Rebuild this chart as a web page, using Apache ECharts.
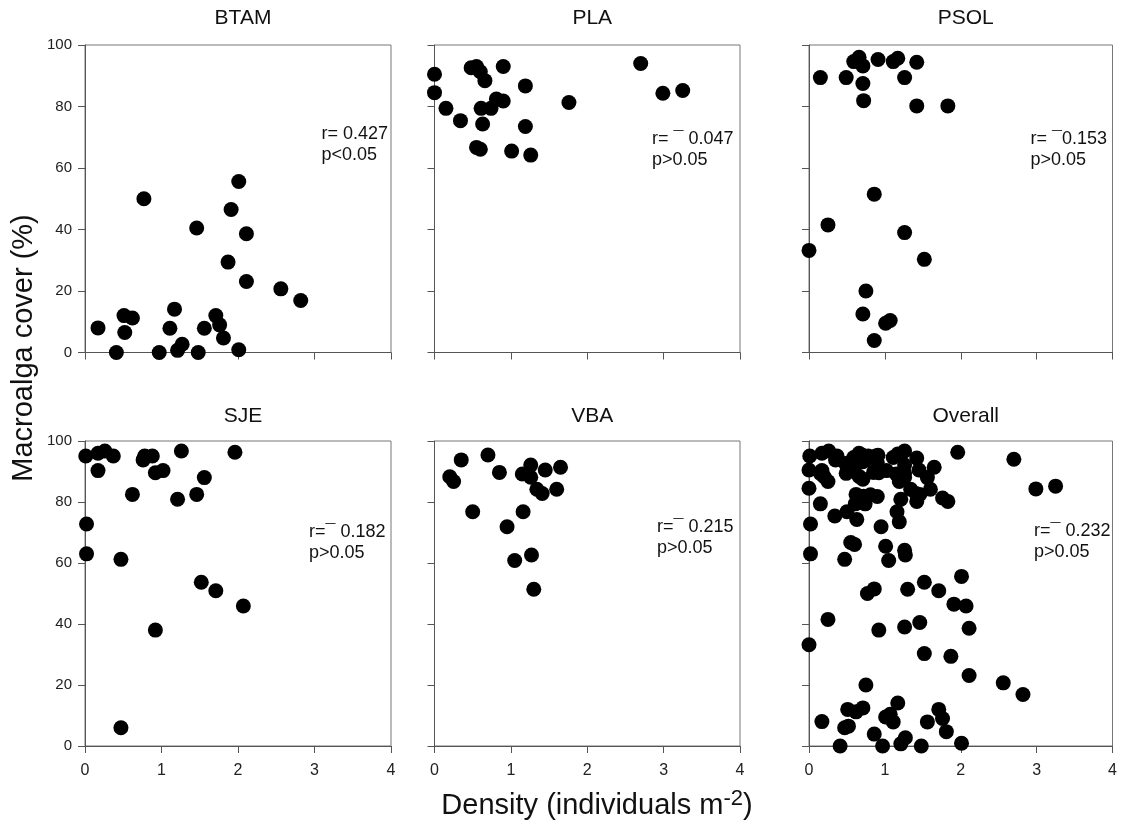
<!DOCTYPE html>
<html>
<head>
<meta charset="utf-8">
<script src="https://cdn.jsdelivr.net/npm/echarts@6/dist/echarts.min.js"></script>
<style>
html,body{margin:0;padding:0;background:#fff;}
#c{width:1121px;height:827px;}
</style>
</head>
<body>
<div id="c"></div>
<script>
// ---- data (density in individuals m^-2, macroalga cover in %) ----
const sites = ["BTAM", "PLA", "PSOL", "SJE", "VBA", "Overall"];

const btamDensity = [0.17,0.41,0.51,0.52,0.62,0.77,0.97,1.11,1.17,1.21,1.27,1.46,1.48,1.56,1.71,1.76,1.81,1.87,1.91,2.01,2.01,2.11,2.11,2.56,2.82];
const btamCover   = [8,0,12,6.5,11.2,50,0,7.9,14.1,0.7,2.7,40.5,0,7.9,12,9,4.7,29.4,46.5,55.6,0.9,38.6,23.1,20.7,16.9];

const plaDensity = [0,0,0.15,0.34,0.48,0.55,0.60,0.66,0.61,0.74,0.81,0.90,0.90,0.63,0.55,0.60,1.01,1.19,1.19,1.26,1.76,2.70,2.99,3.25];
const plaCover   = [90.5,84.5,79.4,75.4,92.6,93,91.3,88.4,79.4,79.4,82.4,81.8,93,74.3,66.7,66.1,65.5,86.7,73.5,64.2,81.3,94,84.3,85.2];

const psolDensity = [0,0.15,0.25,0.49,0.59,0.66,0.71,0.71,0.72,0.75,0.71,0.86,0.86,0.91,1.01,1.07,1.11,1.17,1.26,1.26,1.42,1.42,1.52,1.83];
const psolCover   = [33.2,89.4,41.5,89.4,94.6,96,93.2,87.5,81.9,20,12.5,51.5,3.9,95.3,9.5,10.4,94.6,95.7,89.4,39,94.4,80.2,30.3,80.2];

const sjeDensity = [0.01,0.02,0.02,0.17,0.17,0.26,0.37,0.47,0.47,0.62,0.76,0.78,0.88,0.92,0.92,1.02,1.21,1.26,1.46,1.52,1.56,1.71,1.96,2.07];
const sjeCover   = [95.1,72.8,63,96,90.3,96.7,95.1,61.2,6,82.5,93.8,95.1,95.1,38,89.6,90.3,80.9,96.7,82.5,53.7,88,50.9,96.3,45.9];

const vbaDensity = [0.20,0.25,0.35,0.50,0.70,0.85,0.95,1.05,1.15,1.16,1.26,1.26,1.27,1.30,1.34,1.41,1.45,1.60,1.65];
const vbaCover   = [88.3,86.7,93.8,76.8,95.4,89.7,71.9,60.8,89.2,76.8,92.1,88.1,62.6,51.4,84.2,82.8,90.5,84.2,91.4];

// Overall = all sites pooled
const overallDensity = [].concat(btamDensity, plaDensity, psolDensity, sjeDensity, vbaDensity);
const overallCover   = [].concat(btamCover, plaCover, psolCover, sjeCover, vbaCover);

const xTicks = [0, 1, 2, 3, 4];
const yTicks = [0, 20, 40, 60, 80, 100];

const statR = ["r= 0.427", "r= \u00AF 0.047", "r= \u00AF0.153", "r=\u00AF 0.182", "r=\u00AF 0.215", "r=\u00AF 0.232"];
const statP = ["p<0.05", "p>0.05", "p>0.05", "p>0.05", "p>0.05", "p>0.05"];

const xTitle = "Density (individuals m";
const xTitleSup = "-2";
const xTitleEnd = ")";
const yTitle = "Macroalga cover (%)";

// ---- layout ----
const FONT = "Liberation Sans, Arial, sans-serif";
const panels = [
  {left: 85,    top: 45,  width: 306,   height: 307.5},
  {left: 434.5, top: 45,  width: 305.5, height: 307.5},
  {left: 809,   top: 45,  width: 303.5, height: 307.5},
  {left: 85,    top: 441, width: 306,   height: 305},
  {left: 434.5, top: 441, width: 305.5, height: 305},
  {left: 809,   top: 441, width: 303.5, height: 305}
];
const statPos = [
  [321.5, 135], [652, 140], [1030.5, 140],
  [309, 533], [657, 528], [1034, 532]
];

const densities = [btamDensity, plaDensity, psolDensity, sjeDensity, vbaDensity, overallDensity];
const covers = [btamCover, plaCover, psolCover, sjeCover, vbaCover, overallCover];

const grids = [], xAxes = [], yAxes = [], series = [], titles = [], graphics = [];
const axisCol = "#555";

panels.forEach((p, i) => {
  grids.push({left: p.left, top: p.top, width: p.width, height: p.height,
    show: true, borderColor: "#777", borderWidth: 1, backgroundColor: "transparent"});
  const bottomRow = i >= 3;
  const leftCol = i % 3 === 0;
  xAxes.push({
    type: "value", gridIndex: i, min: xTicks[0], max: xTicks[xTicks.length - 1], interval: 1,
    splitLine: {show: false},
    axisLine: {show: true, onZero: false, lineStyle: {color: axisCol, width: 1}},
    axisTick: {show: true, length: 7, lineStyle: {color: axisCol}},
    axisLabel: {show: bottomRow, fontSize: 16, color: "#222", fontFamily: FONT, margin: 17}
  });
  yAxes.push({
    type: "value", gridIndex: i, min: yTicks[0], max: yTicks[yTicks.length - 1], interval: 20,
    splitLine: {show: false},
    axisLine: {show: true, onZero: false, lineStyle: {color: axisCol, width: 1}},
    axisTick: {show: true, length: 7, lineStyle: {color: axisCol}},
    axisLabel: {show: leftCol, fontSize: 15, color: "#222", fontFamily: FONT, margin: 13}
  });
  series.push({
    type: "scatter", xAxisIndex: i, yAxisIndex: i, symbol: "circle", symbolSize: 15,
    itemStyle: {color: "#000", opacity: 1}, silent: true, animation: false,
    data: densities[i].map((d, k) => [d, covers[i][k]])
  });
  titles.push({
    text: sites[i], left: p.left + p.width / 2, top: p.top - (bottomRow ? 40 : 42),
    textAlign: "center",
    textStyle: {fontSize: 21, fontWeight: "normal", color: "#111", fontFamily: FONT}
  });
  graphics.push({
    type: "text", x: statPos[i][0], y: statPos[i][1] - 11,
    style: {text: statR[i] + "\n" + statP[i], fontSize: 18, lineHeight: 21,
      fill: "#111", font: "18px " + FONT}
  });
});

graphics.push({
  type: "text", x: 24, y: 348, rotation: Math.PI / 2,
  style: {text: yTitle, font: "29px " + FONT, fill: "#111", textAlign: "center", textVerticalAlign: "middle"}
});
graphics.push({
  type: "text", x: 597, y: 806,
  style: {
    text: "{a|" + xTitle + "}{s|" + xTitleSup + "}{a|" + xTitleEnd + "}",
    textAlign: "center", textVerticalAlign: "middle", fill: "#111",
    rich: {
      a: {fontSize: 29, fontFamily: FONT, fill: "#111"},
      s: {fontSize: 22, fontFamily: FONT, fill: "#111", verticalAlign: "top", padding: [0, 0, 14, 0]}
    }
  }
});

const chart = echarts.init(document.getElementById("c"), null, {renderer: "canvas"});
chart.setOption({
  animation: false,
  backgroundColor: "#fff",
  title: titles,
  grid: grids,
  xAxis: xAxes,
  yAxis: yAxes,
  series: series,
  graphic: graphics
});
</script>
</body>
</html>
